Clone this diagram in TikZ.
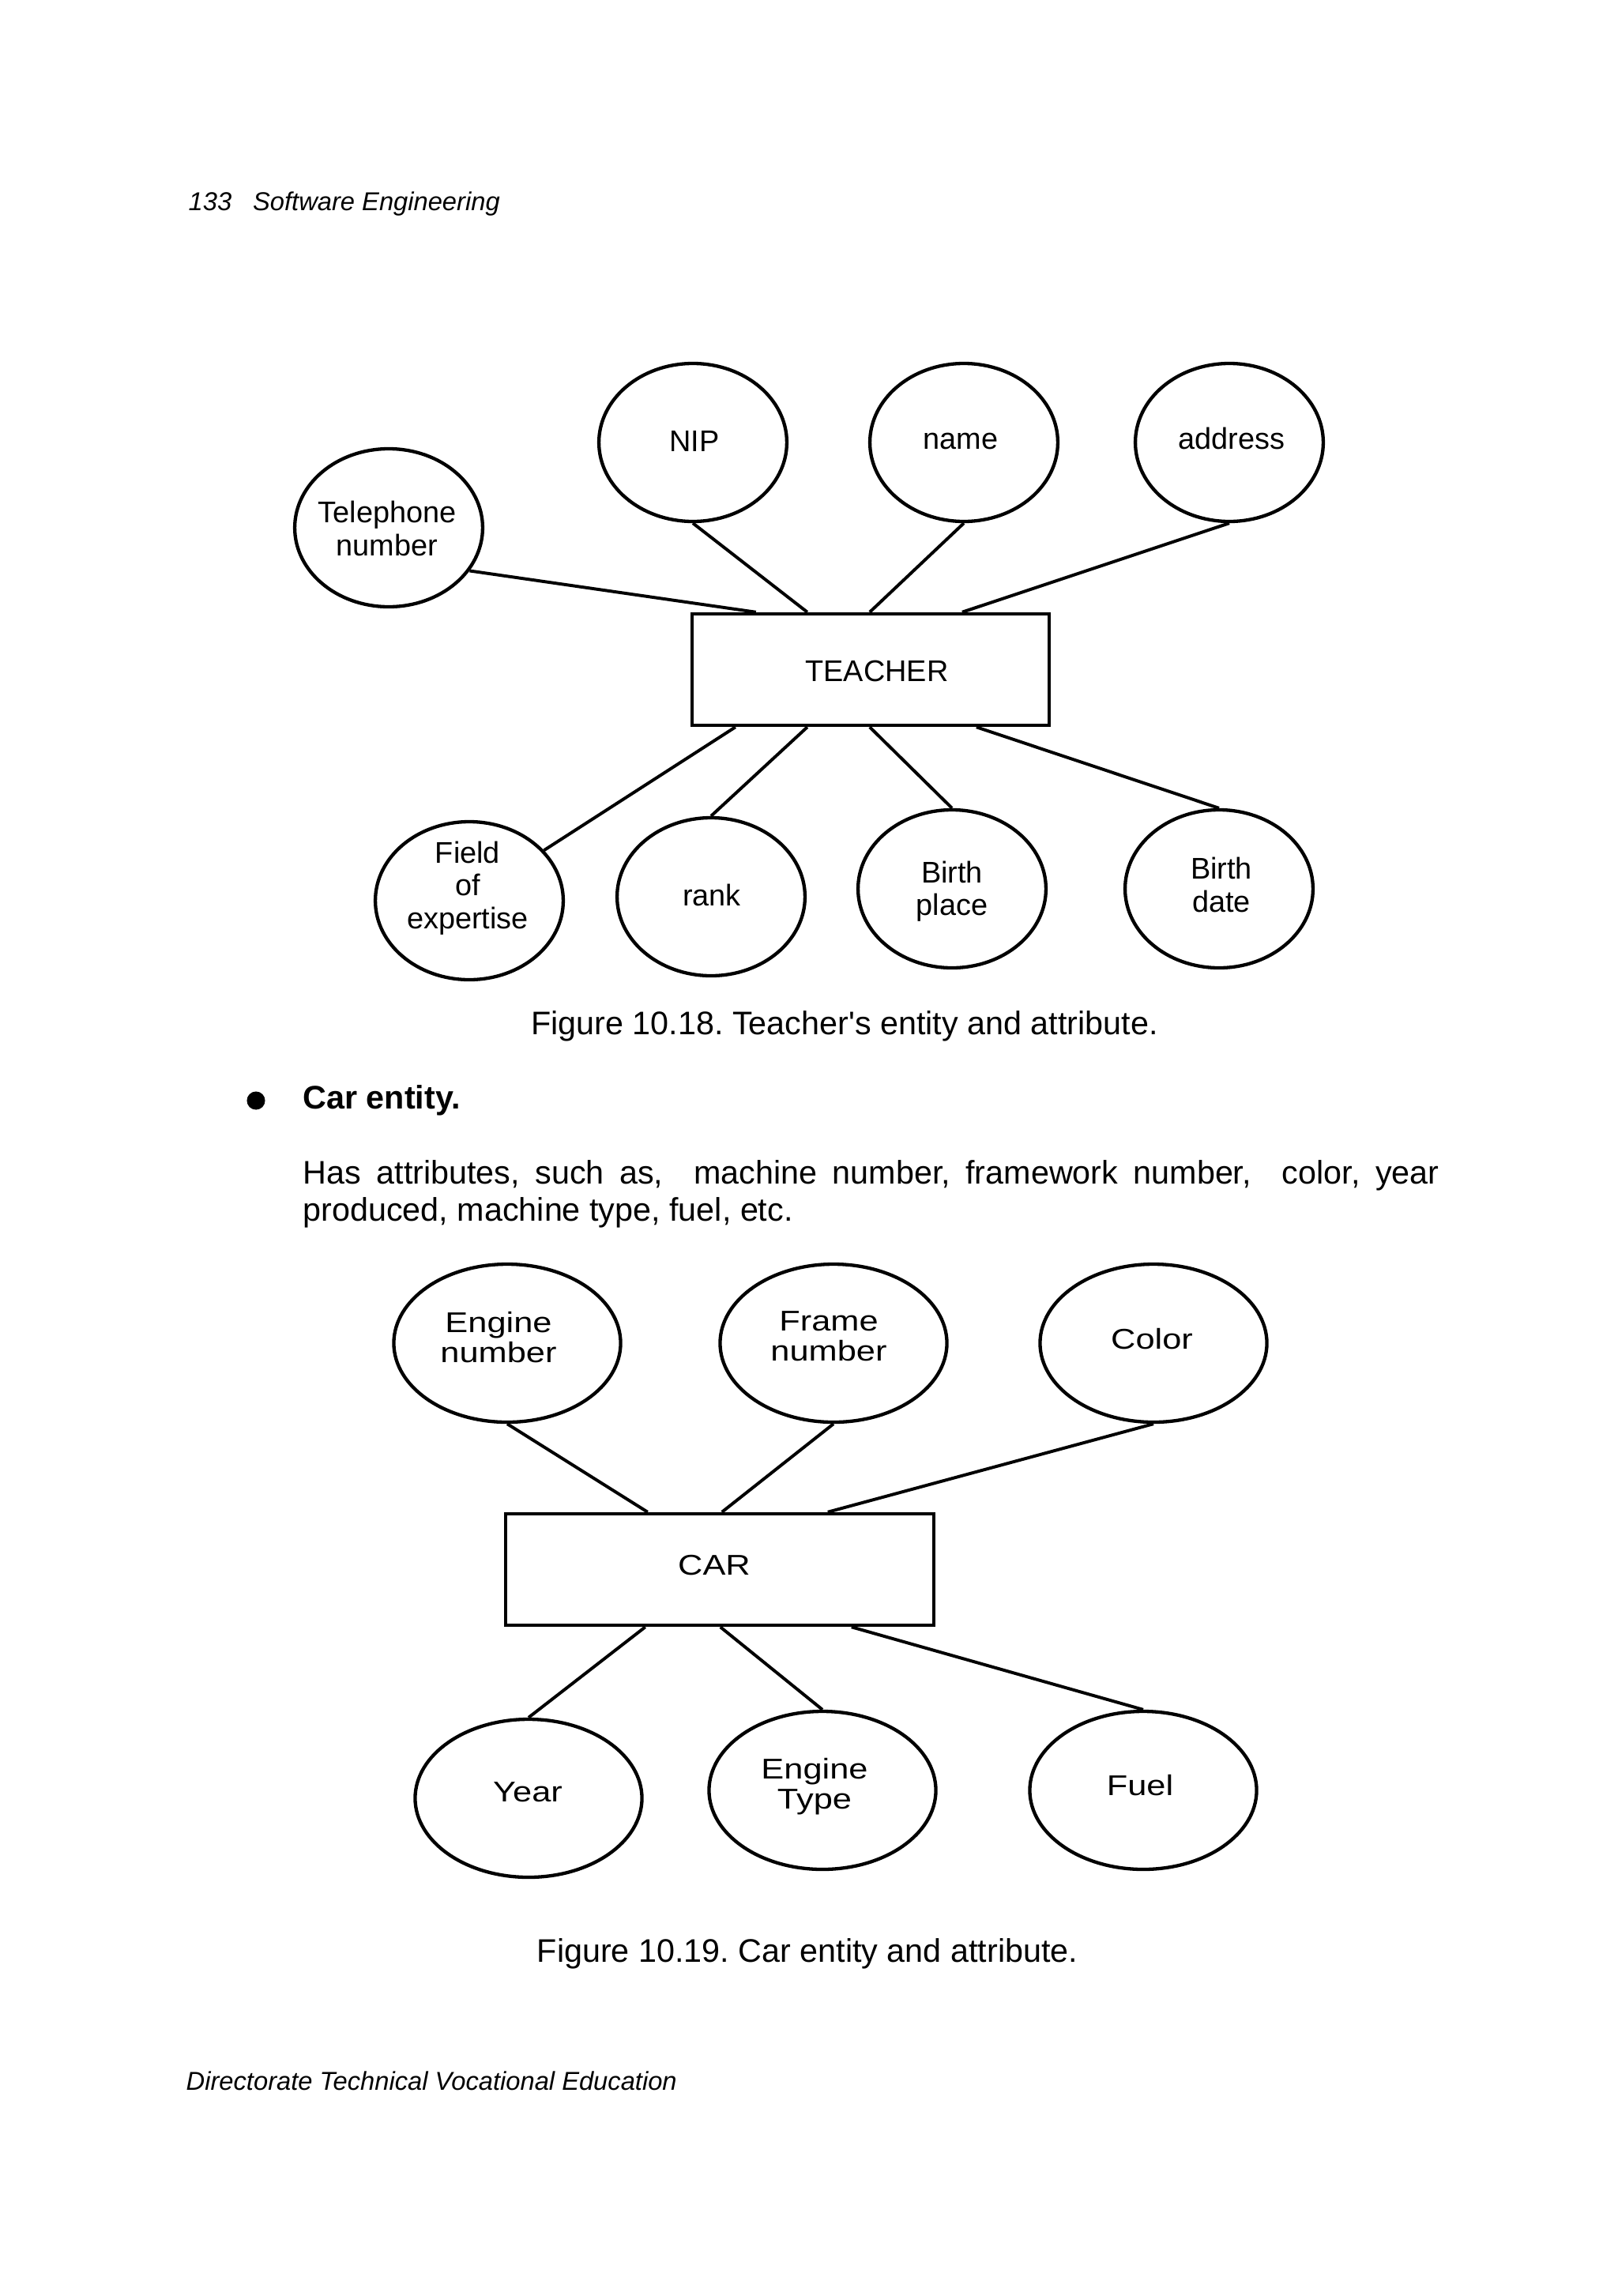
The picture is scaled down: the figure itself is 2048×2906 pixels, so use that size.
\documentclass[tikz,border=0pt]{standalone}
\usepackage{graphicx}
\usepackage{fontspec}
\setmainfont{Liberation Sans}[Ligatures=TeXOff]
\usetikzlibrary{shapes.geometric,calc}
\newcommand{\carlab}[1]{\scalebox{1.2}[1]{\fontsize{10.5}{10.8}\selectfont\begin{tabular}{@{}c@{}}#1\end{tabular}}}
\frenchspacing
\begin{document}
\begin{tikzpicture}[x=0.2905pt,y=-0.2905pt,
  attr/.style={draw,ellipse,line width=1.25pt,minimum width=69.1pt,minimum height=58.1pt,inner sep=0pt},
  cattr/.style={draw,ellipse,line width=1.25pt,minimum width=83.4pt,minimum height=58.1pt,inner sep=0pt},
  ent/.style={draw,rectangle,line width=1.25pt,inner sep=0pt},
  conn/.style={line width=1.15pt},
  tlab/.style={inner sep=0pt,align=center,font=\fontsize{11}{12}\selectfont},
  clab/.style={inner sep=0pt},
  body/.style={inner sep=0pt,font=\fontsize{12}{14}\selectfont},
  small/.style={inner sep=0pt,font=\fontsize{9.5}{11}\selectfont\itshape}]
\useasboundingbox (0,0) rectangle (2048,2906);
% header
\node[small,anchor=base west] (hdr) at (238,266) {133\hspace{7.8pt}Software Engineering};
% Teacher diagram
\node[attr] (tel) at (492,668) {};
\node[attr] (nip) at (877,560) {};
\node[attr] (name) at (1220,560) {};
\node[attr] (addr) at (1556,560) {};
\node[ent,minimum width=131.3pt,minimum height=41pt] (teacher) at (1102,847.5) {};
\node[attr] (field) at (594,1140) {};
\node[attr] (rank) at (900,1135) {};
\node[attr] (bplace) at (1205,1125) {};
\node[attr] (bdate) at (1543,1125) {};
\node[tlab] (tTel) at (490,669) {Telephone\\number};
\node[tlab] (tNip) at (879,558) {NIP};
\node[tlab] (tName) at (1216,558) {name};
\node[tlab] (tAddr) at (1559,555) {address};
\node[tlab] (tTeacher) at (1110,849) {TEACHER};
\node[tlab] (tField) at (592,1124) {Field\\of\\expertise};
\node[tlab] (tRank) at (901,1133) {rank};
\node[tlab] (tBplace) at (1205,1128) {Birth\\place};
\node[tlab] (tBdate) at (1546,1120) {Birth\\date};
\draw[conn] (tel.-28) -- ($(teacher.north west)+(83,0)$);
\draw[conn] (nip.south) -- ($(teacher.north west)+(148,0)$);
\draw[conn] (name.south) -- ($(teacher.north west)+(227,0)$);
\draw[conn] (addr.south) -- ($(teacher.north west)+(344,0)$);
\draw[conn] (field.34) -- ($(teacher.south west)+(57,0)$);
\draw[conn] (rank.north) -- ($(teacher.south west)+(148,0)$);
\draw[conn] (bplace.north) -- ($(teacher.south west)+(227,0)$);
\draw[conn] (bdate.north) -- ($(teacher.south west)+(362,0)$);
\node[body,anchor=base] (cap1) at (1069,1309) {Figure 10.18. Teacher's entity and attribute.};
% bullet text
\node[circle,fill,inner sep=0pt,minimum size=6.7pt] (bullet) at (324,1393) {};
\node[body,anchor=base west,font=\fontsize{12}{14}\selectfont\bfseries] (carhead) at (383,1403) {Car entity.};
\node[body,anchor=base west] (para1) at (383,1498) {\makebox[417.7pt][s]{Has attributes, such as, \ machine number, framework number, \ color, year}};
\node[body,anchor=base west] (para2) at (383,1545) {produced, machine type, fuel, etc.};
% Car diagram
\node[cattr] (eng) at (642,1700) {};
\node[cattr] (frame) at (1055,1700) {};
\node[cattr] (color) at (1460,1700) {};
\node[ent,minimum width=157.5pt,minimum height=41pt] (car) at (911,1986.5) {};
\node[cattr] (year) at (669,2276) {};
\node[cattr] (etype) at (1041,2266) {};
\node[cattr] (fuel) at (1447,2266) {};
\node[clab] (tEng) at (631,1698) {\carlab{Engine\\number}};
\node[clab] (tFrame) at (1049,1696) {\carlab{Frame\\number}};
\node[clab] (tColor) at (1458,1700) {\carlab{Color}};
\node[clab] (tCar) at (904,1986) {\carlab{CAR}};
\node[clab] (tYear) at (668,2273) {\carlab{Year}};
\node[clab] (tEtype) at (1031,2263) {\carlab{Engine\\Type}};
\node[clab] (tFuel) at (1443,2265) {\carlab{Fuel}};
\draw[conn] (eng.south) -- ($(car.north west)+(182,0)$);
\draw[conn] (frame.south) -- ($(car.north west)+(276,0)$);
\draw[conn] (color.south) -- ($(car.north west)+(410,0)$);
\draw[conn] (year.north) -- ($(car.south west)+(179,0)$);
\draw[conn] (etype.north) -- ($(car.south west)+(274,0)$);
\draw[conn] (fuel.north) -- ($(car.south west)+(440,0)$);
\node[body,anchor=base] (cap2) at (1022,2483) {Figure 10.19. Car entity and attribute.};
% footer
\node[small,anchor=base west] (ftr) at (235,2645) {Directorate Technical Vocational Education};
\end{tikzpicture}
\end{document}
